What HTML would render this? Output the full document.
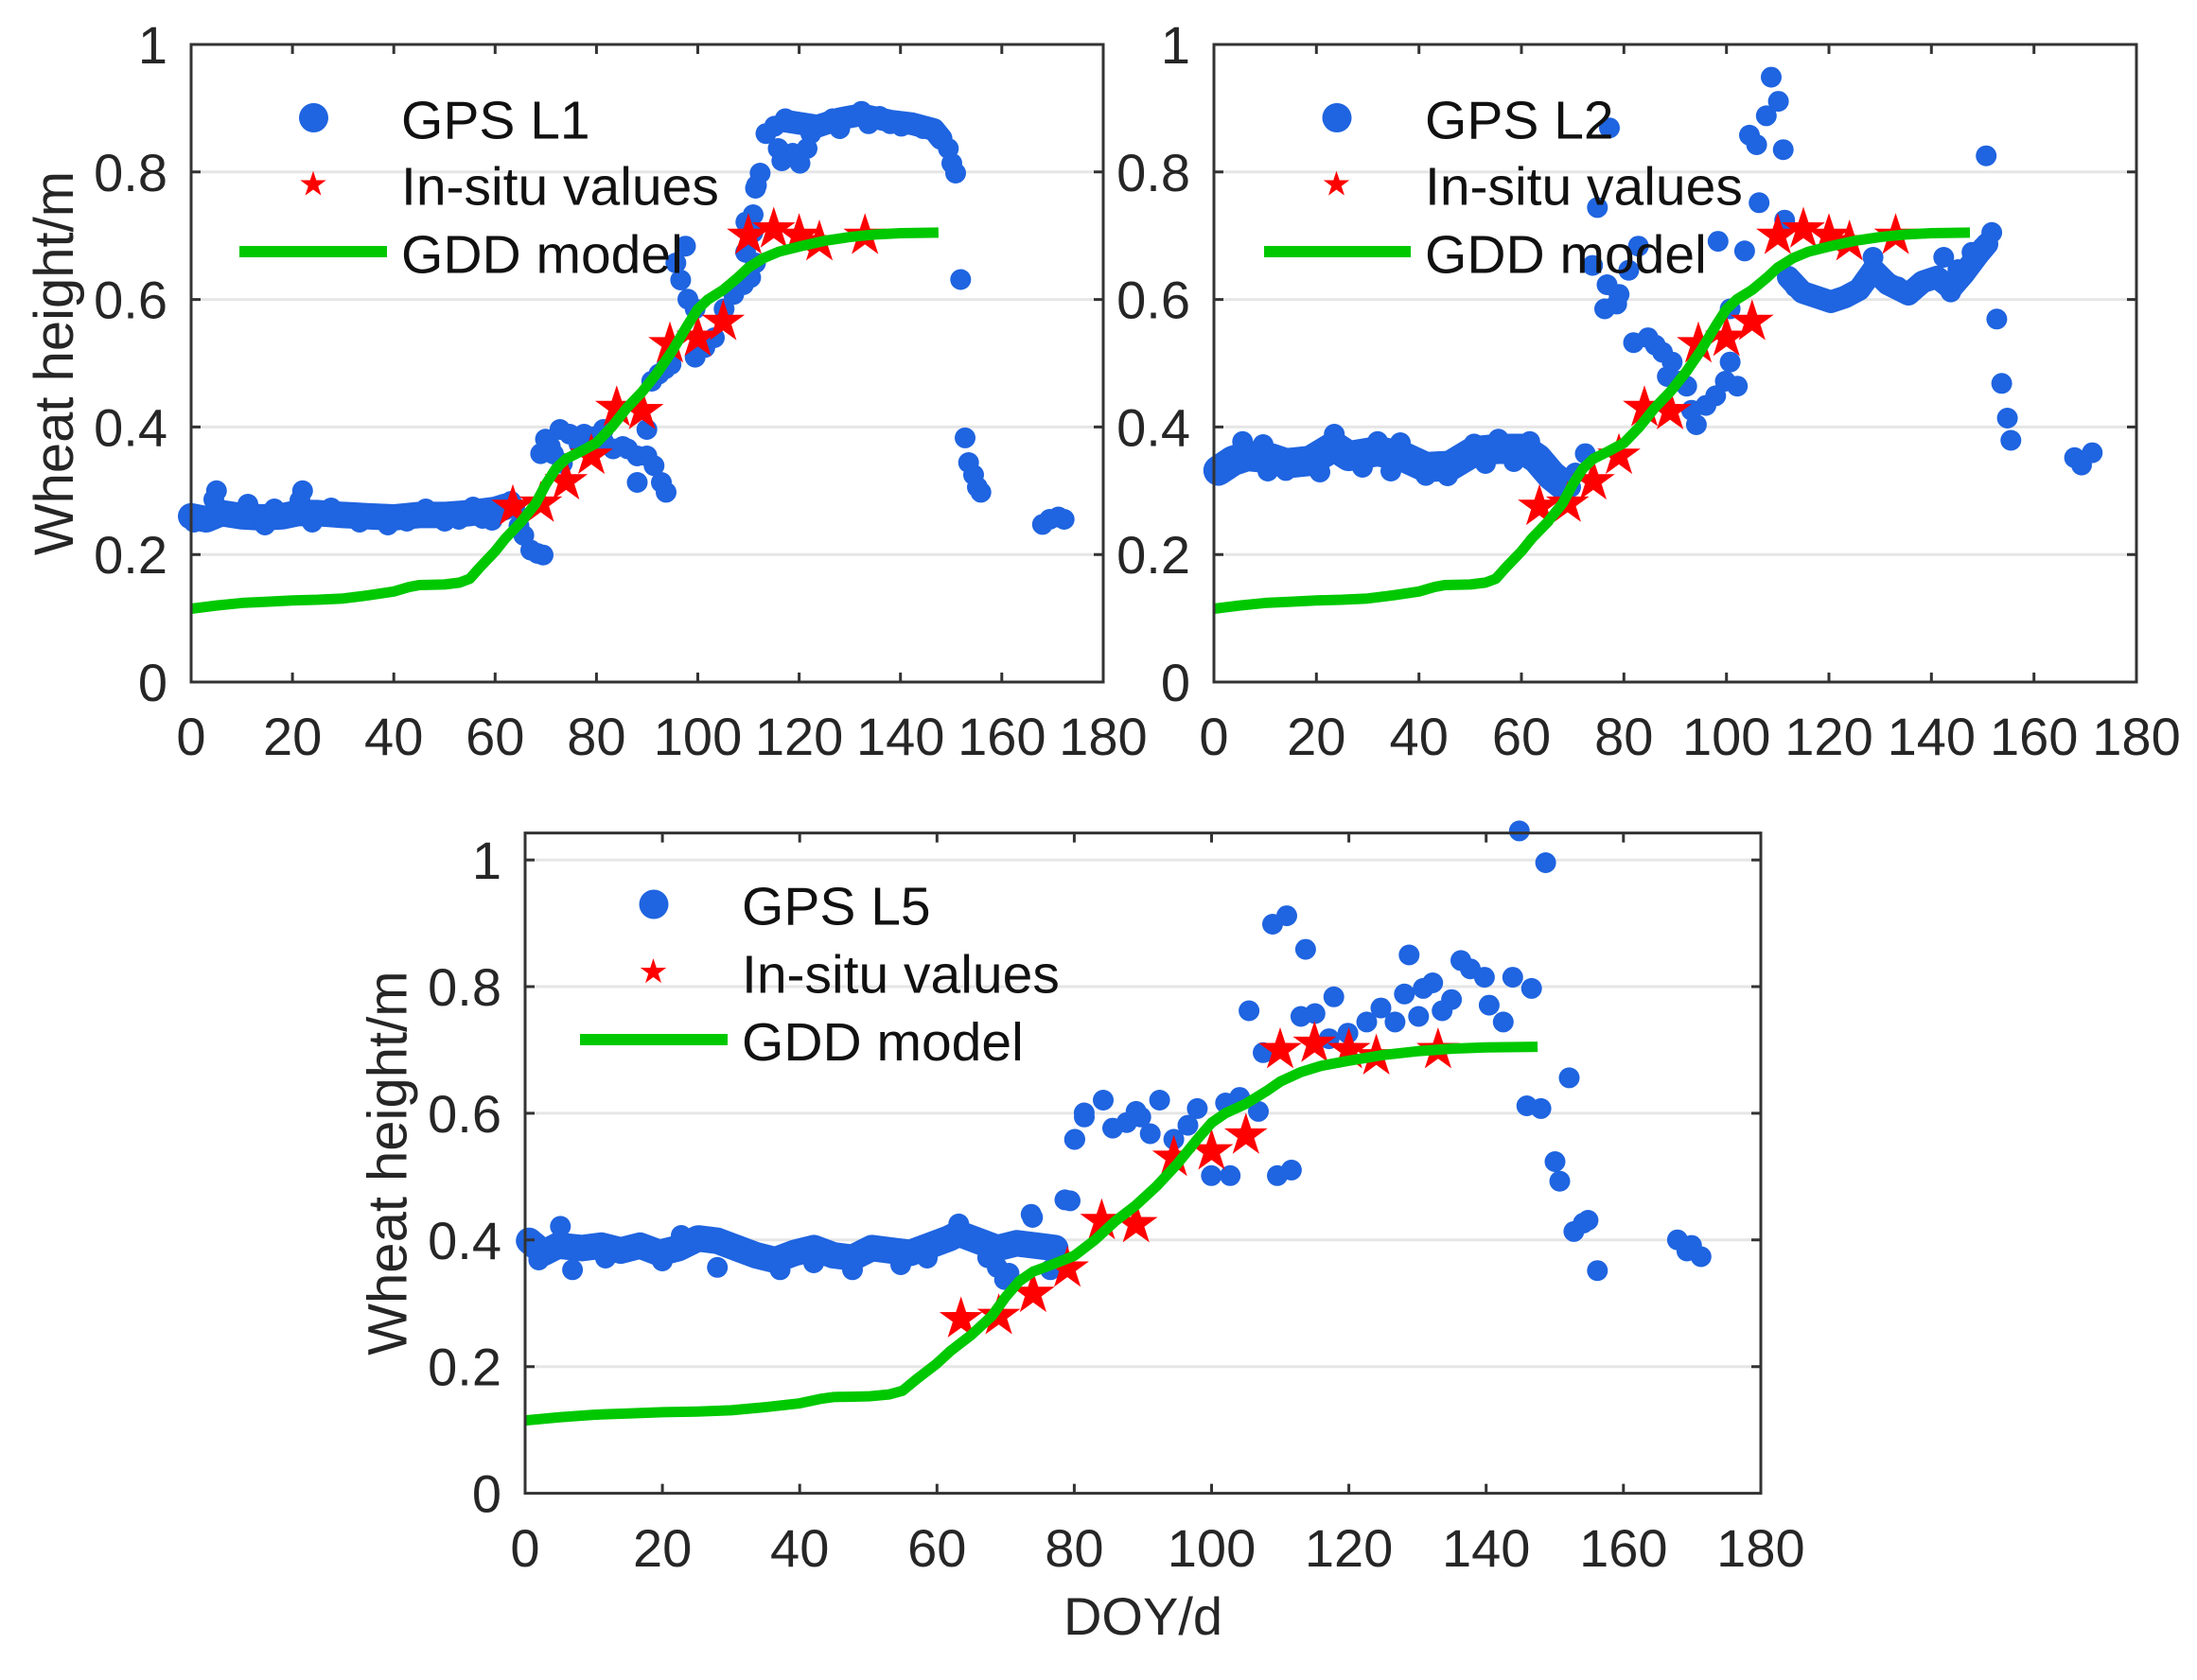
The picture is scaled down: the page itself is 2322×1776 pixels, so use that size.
<!DOCTYPE html>
<html>
<head>
<meta charset="utf-8">
<style>
html,body{margin:0;padding:0;background:#fff;}
svg{display:block;}
text{font-family:"Liberation Sans",Arial,sans-serif;fill:#262626;}
.tk{font-size:56px;}
.lg{font-size:57px;fill:#111;}
.yl{font-size:58px;}
.grid{stroke:#e6e6e6;stroke-width:3;fill:none;}
.box{stroke:#333;stroke-width:3;fill:none;}
.tick{stroke:#333;stroke-width:3;fill:none;}
.dots{stroke:#1f64e0;stroke-width:22;stroke-linecap:round;fill:none;}
.band{stroke:#1f64e0;stroke-linecap:round;stroke-linejoin:round;fill:none;}
.gdd{stroke:#00c800;stroke-width:11;fill:none;stroke-linejoin:round;}
</style>
</head>
<body>
<svg width="2322" height="1776" viewBox="0 0 2322 1776" xmlns="http://www.w3.org/2000/svg">
<defs>
<path id="st" fill="#ff0000" d="M0,-24 L5.41,-7.44 L22.83,-7.42 L8.75,2.84 L14.11,19.42 L0,9.2 L-14.11,19.42 L-8.75,2.84 L-22.83,-7.42 L-5.41,-7.44 Z"/>
</defs>
<rect width="2322" height="1776" fill="#fff"/>

<!-- ================= PLOT 1 ================= -->
<g>
<path class="grid" d="M202 586.2H1166 M202 451.4H1166 M202 316.6H1166 M202 181.8H1166"/>
<polyline class="band" stroke-width="28" points="202,545.8 218,549 234,542.4 255.6,545.8 277,547 298.4,545.8 314.5,542.4 336,542.4 362.7,544.4 389.4,545.8 416.2,547 443,544.4 469.8,544.4 496.5,542.4 523.3,539 534,535.7"/>
<polyline class="band" stroke-width="24" points="830,128 864.5,133.4 887.5,125.5 910.5,121.3 941,128 964,130.8 987,137 994.6,146.4"/>
<path class="dots" d="M228.8 518.8h0M319.8 518.8h0M317 529h0M226 528h0M262 533h0M280 555h0M350 537h0M380 552h0M410 555h0M450 538h0M470 551h0M500 536h0M520 550h0M205 552h0M290 538h0M330 552h0M430 551h0M485 549h0M510 548h0M540 530h0M544 536h0
M548.5 556h0M553.6 566h0M561 581.6h0M568 585h0M574 586.7h0
M571.4 479.6h0M576.5 464.3h0M591.8 454h0M602 459h0M612 469.4h0M617.3 459h0M627.6 461.7h0M637.8 466.8h0M648 474.5h0M658.2 472h0M663.3 474.5h0M673.5 482h0M683.7 482h0M691.3 492.3h0M683.7 454h0M673.5 510h0M704 520.4h0M699 510h0M594.4 489.8h0M581.6 472h0M637.8 454h0M585 480h0
M688.8 403h0M696.4 395.4h0M709.2 385.2h0M703 390h0M714.3 278h0M724.5 260.2h0M719.4 296h0M727 316.3h0M734.7 326.5h0M734.7 377.6h0M745 367.3h0M755 357h0M765.3 326.5h0M775.5 311.2h0M785.7 301h0M793.4 293.4h0M798.5 278h0M788.3 234.7h0M796 227h0M798.5 199h0M788 266.7h0M795.7 245.8h0
M799.5 196h0M803.4 183h0M809.5 141.2h0M818.7 133.4h0M830 125.5h0M822.5 157h0M826.3 170h0M837.8 162h0M845.5 172.6h0M853 157h0M857 141.2h0M868.4 130.8h0M880 125.5h0M887.5 136h0M899 123h0M910.5 117.7h0M918 130.8h0M929.6 123h0M941 130.8h0M952.6 133.4h0M964 130.8h0M975.5 136h0M987 138.6h0M994.6 146.4h0M1002.3 157h0M1006 172.6h0M1010 183h0
M1015.3 295.5h0M1020 462.9h0M1023.7 489h0M1029 502h0M1033 515h0M1036.7 520.4h0M1101.8 554.4h0M1109.4 549h0M1118.6 546.5h0M1124.7 549h0"/>
<use href="#st" x="542" y="535.7"/><use href="#st" x="571.5" y="532.3"/><use href="#st" x="598.3" y="508.7"/><use href="#st" x="625" y="481.7"/><use href="#st" x="651.8" y="431.2"/><use href="#st" x="678.6" y="434.5"/><use href="#st" x="708" y="363.8"/><use href="#st" x="737.5" y="357"/><use href="#st" x="764.3" y="340.2"/><use href="#st" x="791" y="249.2"/><use href="#st" x="817.8" y="242.5"/><use href="#st" x="844.6" y="249.2"/><use href="#st" x="866" y="256"/><use href="#st" x="914.2" y="249.2"/>
<g transform="translate(202,721) scale(5.355,-0.674)">
<polyline class="gdd" vector-effect="non-scaling-stroke" points="0,115 5,120 10,124 15,126 20,128 25,129 30,131 35,136 40,142 43,149 45,152 50,153 53,156 55,162 57,180 60,205 62,225 65,250 68,280 70,310 72,335 74,350 77,362 80,375 83,400 86,430 89,455 92,485 95,520 98,560 100,585 102,600 105,615 108,635 110,650 113,665 116,675 120,683 125,692 130,698 135,702 140,704 147.5,705"/>
</g>
<rect class="box" x="202" y="47" width="964" height="674"/>
<path class="tick" d="M309.1 721v-10M416.2 721v-10M523.3 721v-10M630.4 721v-10M737.5 721v-10M844.6 721v-10M951.7 721v-10M1058.8 721v-10
M309.1 47v10M416.2 47v10M523.3 47v10M630.4 47v10M737.5 47v10M844.6 47v10M951.7 47v10M1058.8 47v10
M202 586.2h10M202 451.4h10M202 316.6h10M202 181.8h10M1166 586.2h-10M1166 451.4h-10M1166 316.6h-10M1166 181.8h-10"/>
<g class="tk" text-anchor="end">
<text class="tk" x="177" y="741">0</text><text class="tk" x="177" y="606.2">0.2</text><text class="tk" x="177" y="471.4">0.4</text><text class="tk" x="177" y="336.6">0.6</text><text class="tk" x="177" y="201.8">0.8</text><text class="tk" x="177" y="67">1</text>
</g>
<g text-anchor="middle">
<text class="tk" x="202" y="798">0</text><text class="tk" x="309.1" y="798">20</text><text class="tk" x="416.2" y="798">40</text><text class="tk" x="523.3" y="798">60</text><text class="tk" x="630.4" y="798">80</text><text class="tk" x="737.5" y="798">100</text><text class="tk" x="844.6" y="798">120</text><text class="tk" x="951.7" y="798">140</text><text class="tk" x="1058.8" y="798">160</text><text class="tk" x="1165.9" y="798">180</text>
</g>
<text class="yl" text-anchor="middle" transform="translate(77,384) rotate(-90)">Wheat height/m</text>
<!-- legend -->
<circle cx="331.5" cy="124.5" r="15.5" fill="#1f64e0"/>
<use href="#st" transform="translate(331,195) scale(0.6)"/>
<line x1="253" y1="266" x2="409" y2="266" stroke="#00c800" stroke-width="12"/>
<text class="lg" x="424" y="146.7">GPS L1</text>
<text class="lg" x="424" y="216.7">In-situ values</text>
<text class="lg" x="424" y="288.3">GDD model</text>
</g>

<!-- ================= PLOT 2 ================= -->
<g>
<path class="grid" d="M1283 586.2H2258 M1283 451.4H2258 M1283 316.6H2258 M1283 181.8H2258"/>
<polyline class="band" stroke-width="32" points="1287.8,497.4 1303,487.2 1318.4,482.1 1343.9,484.7 1359.2,489.8 1384.7,487.2 1410.2,471.9 1425.5,482.1 1456.1,477 1481.6,482.1 1507.1,493.9 1532.7,492.3 1558.2,477 1583.7,474.5 1609.2,474.5 1624.5,484.7 1639.8,502.6 1652.6,512.8"/>
<polyline class="band" stroke-width="24" points="1890,293 1905,309 1935,319 1950,314 1965,306 1980,285 1995,300 2017,311 2032,298 2047,293 2062,305 2075,290 2090,270 2100,258"/>
<path class="dots" d="M1313.3 466.8h0M1410.2 459h0M1456 466.8h0M1558 469.4h0M1583.7 464.3h0M1616.8 466.8h0M1507 502.6h0M1359 497.4h0M1287.8 502.6h0M1675.5 479.6h0M1665 500h0M1340 498h0M1395 499h0M1440 494h0M1470 498h0M1530 503h0M1570 490h0M1600 488h0M1335 470h0M1480 468h0M1290 490h0M1660 515h0
M1701 135.2h0M1688.3 219.4h0M1683.2 280.6h0M1698.5 301h0M1711.2 311.2h0M1696 326.5h0M1708.7 321.4h0M1721.4 285.7h0M1731.6 260.2h0M1726.5 362.2h0M1741.8 357.1h0M1749.5 364.8h0M1757.1 372.4h0M1767.3 382.7h0M1762.2 398h0M1775 403h0M1782.7 408.2h0M1792.9 449h0M1787.8 433.7h0M1803 428.6h0M1813.3 418.4h0M1823.5 403h0M1828.6 382.7h0M1836.2 408.2h0M1828.6 326.5h0M1815.8 255.1h0M1843.9 265.3h0M1849 142.9h0M1856.6 153h0M1859.2 214.3h0M1872 81.6h0M1879.6 107.1h0M1866.8 122.4h0M1884.7 158.2h0
M1886.2 232.7h0M1890 292.9h0M1897.4 303.3h0M1904.9 308.6h0M1919.8 313.8h0M1934.7 319h0M1949.7 313.8h0M1964.6 306h0M1979.6 272h0M1987 292.9h0M1994.5 298h0M2005.8 303.3h0M2017 311.2h0M2032 298h0M2046.9 292.9h0M2054.3 272h0M2061.8 308.6h0M2069.3 285h0M2084.2 266.7h0M2095.4 261.5h0M2099.2 164.7h0M2105.1 245.8h0M2110.4 337.3h0M2115.6 405.3h0M2121.6 442h0M2125.3 465.5h0M2192.6 483.8h0M2200 491.6h0M2211.3 478.6h0"/>
<use href="#st" x="1627" y="535.7"/><use href="#st" x="1656.8" y="532.3"/><use href="#st" x="1683.9" y="508.7"/><use href="#st" x="1711" y="481.7"/><use href="#st" x="1738" y="431.2"/><use href="#st" x="1765.1" y="434.5"/><use href="#st" x="1795" y="363.8"/><use href="#st" x="1824.7" y="357"/><use href="#st" x="1851.8" y="340.2"/><use href="#st" x="1878.9" y="249.2"/><use href="#st" x="1906" y="242.5"/><use href="#st" x="1933" y="249.2"/><use href="#st" x="1954.7" y="256"/><use href="#st" x="2003.5" y="249.2"/>
<g transform="translate(1283,721) scale(5.417,-0.674)">
<polyline class="gdd" vector-effect="non-scaling-stroke" points="0,115 5,120 10,124 15,126 20,128 25,129 30,131 35,136 40,142 43,149 45,152 50,153 53,156 55,162 57,180 60,205 62,225 65,250 68,280 70,310 72,335 74,350 77,362 80,375 83,400 86,430 89,455 92,485 95,520 98,560 100,585 102,600 105,615 108,635 110,650 113,665 116,675 120,683 125,692 130,698 135,702 140,704 147.5,705"/>
</g>
<rect class="box" x="1283" y="47" width="975" height="674"/>
<path class="tick" d="M1391.3 721v-10M1499.7 721v-10M1608 721v-10M1716.3 721v-10M1824.7 721v-10M1933 721v-10M2041.3 721v-10M2149.7 721v-10
M1391.3 47v10M1499.7 47v10M1608 47v10M1716.3 47v10M1824.7 47v10M1933 47v10M2041.3 47v10M2149.7 47v10
M1283 586.2h10M1283 451.4h10M1283 316.6h10M1283 181.8h10M2258 586.2h-10M2258 451.4h-10M2258 316.6h-10M2258 181.8h-10"/>
<g text-anchor="end">
<text class="tk" x="1258" y="741">0</text><text class="tk" x="1258" y="606.2">0.2</text><text class="tk" x="1258" y="471.4">0.4</text><text class="tk" x="1258" y="336.6">0.6</text><text class="tk" x="1258" y="201.8">0.8</text><text class="tk" x="1258" y="67">1</text>
</g>
<g text-anchor="middle">
<text class="tk" x="1283" y="798">0</text><text class="tk" x="1391.3" y="798">20</text><text class="tk" x="1499.7" y="798">40</text><text class="tk" x="1608" y="798">60</text><text class="tk" x="1716.3" y="798">80</text><text class="tk" x="1824.7" y="798">100</text><text class="tk" x="1933" y="798">120</text><text class="tk" x="2041.3" y="798">140</text><text class="tk" x="2149.7" y="798">160</text><text class="tk" x="2258" y="798">180</text>
</g>
<circle cx="1413" cy="124.5" r="15.5" fill="#1f64e0"/>
<use href="#st" transform="translate(1412.5,195) scale(0.6)"/>
<line x1="1336" y1="266" x2="1491" y2="266" stroke="#00c800" stroke-width="12"/>
<text class="lg" x="1506" y="146.7">GPS L2</text>
<text class="lg" x="1506" y="216.7">In-situ values</text>
<text class="lg" x="1506" y="288.3">GDD model</text>
</g>

<!-- ================= PLOT 3 ================= -->
<g>
<path class="grid" d="M555 1444.7H1861 M555 1310.8H1861 M555 1176.9H1861 M555 1043H1861 M555 909.1H1861"/>
<polyline class="band" stroke-width="28" points="559.2,1311.7 574.5,1324.5 589.8,1316.8 615.3,1319.4 635.7,1316.8 656.1,1322 676.5,1316.8 696.9,1324.5 717.3,1319.4 737.8,1309.2 758.2,1311.7 778.6,1319.4 799,1327 819.4,1332.1 839.8,1324.5 860.2,1319.4 880.6,1327 901,1329.6 921.4,1319.4 941.8,1322 962.2,1324.5 982.7,1316.8 1003,1309.2 1013.3,1304.1 1033.7,1311.7 1054,1319.4 1074.5,1314.3 1094.9,1316.8 1115.3,1319.4"/>
<path class="dots" d="M592.3 1296.4h0M569.4 1332h0M605.1 1342.3h0M758.2 1339.8h0M824.5 1342.3h0M901 1342.3h0M952 1337h0M1013.3 1293.9h0M1054 1339.8h0M1061.7 1352.6h0M1089.8 1283.7h0M1125.5 1268.4h0M1135.7 1204.6h0M1145.9 1176.5h0M1110.2 1342.3h0M1043.9 1329.6h0M1066.4 1346h0M1091.3 1287h0M1131 1269.4h0M640 1330h0M700 1333h0M860 1335h0M980 1330h0M720 1306h0
M1136 1204.4h0M1146 1180.8h0M1166 1163h0M1176 1192.6h0M1190.8 1186.7h0M1205.7 1180.8h0M1215.7 1198.5h0M1200.7 1174.9h0M1225.6 1163h0M1240.6 1204.4h0M1255.5 1189.6h0M1265.4 1171.9h0M1280.3 1242.8h0M1300.2 1242.8h0M1295.3 1166h0M1310.2 1160.1h0M1320.1 1068.5h0M1330 1174.9h0M1335 1112.8h0M1345 977h0M1360 968.1h0M1350 1242.8h0M1364.9 1236.9h0M1379.9 1003.6h0M1374.9 1074.5h0M1389.8 1071.5h0M1409.7 1053.8h0M1404.7 1098.1h0M1424.6 1092.2h0M1444.5 1080.4h0M1459.5 1065.6h0M1474.4 1080.4h0M1489.3 1009.5h0M1484.3 1050.8h0M1504.2 1044.9h0M1514.2 1039h0M1499.3 1074.5h0M1524.2 1068.5h0M1534.1 1056.7h0M1544 1015.4h0M1554 1024.2h0M1568.9 1033.1h0M1573.9 1062.6h0M1588.8 1080.4h0M1598.8 1033.1h0M1605.8 878.4h0M1633.6 912h0M1618.7 1044.9h0M1613.7 1169h0M1628.6 1171.9h0M1643.5 1228h0M1648.5 1248.7h0M1658.5 1139.4h0M1663.4 1301.9h0M1673.4 1293h0M1678.4 1290h0M1688.3 1343.2h0M1772.9 1310.7h0M1782.9 1322.5h0M1797.8 1328.5h0M1787.8 1316.6h0"/>
<use href="#st" x="1015.7" y="1394.5"/><use href="#st" x="1055.6" y="1391.1"/><use href="#st" x="1091.9" y="1367.7"/><use href="#st" x="1128.1" y="1340.9"/><use href="#st" x="1164.4" y="1290.7"/><use href="#st" x="1200.7" y="1294"/><use href="#st" x="1240.6" y="1223.8"/><use href="#st" x="1280.5" y="1217.1"/><use href="#st" x="1316.8" y="1200.3"/><use href="#st" x="1353" y="1110"/><use href="#st" x="1389.3" y="1103.3"/><use href="#st" x="1425.6" y="1110"/><use href="#st" x="1454.6" y="1116.6"/><use href="#st" x="1519.9" y="1110"/>
<g transform="translate(555,1578.6) scale(7.255,-0.6695)">
<polyline class="gdd" vector-effect="non-scaling-stroke" points="0,115 5,120 10,124 15,126 20,128 25,129 30,131 35,136 40,142 43,149 45,152 50,153 53,156 55,162 57,180 60,205 62,225 65,250 68,280 70,310 72,335 74,350 77,362 80,375 83,400 86,430 89,455 92,485 95,520 98,560 100,585 102,600 105,615 108,635 110,650 113,665 116,675 120,683 125,692 130,698 135,702 140,704 147.5,705"/>
</g>
<rect class="box" x="555" y="880.6" width="1306" height="698"/>
<path class="tick" d="M700.1 1578.6v-10M845.2 1578.6v-10M990.3 1578.6v-10M1135.4 1578.6v-10M1280.5 1578.6v-10M1425.6 1578.6v-10M1570.7 1578.6v-10M1715.8 1578.6v-10
M700.1 880.6v10M845.2 880.6v10M990.3 880.6v10M1135.4 880.6v10M1280.5 880.6v10M1425.6 880.6v10M1570.7 880.6v10M1715.8 880.6v10
M555 1444.7h10M555 1310.8h10M555 1176.9h10M555 1043h10M555 909.1h10M1861 1444.7h-10M1861 1310.8h-10M1861 1176.9h-10M1861 1043h-10M1861 909.1h-10"/>
<g text-anchor="end">
<text class="tk" x="530" y="1598.6">0</text><text class="tk" x="530" y="1464.7">0.2</text><text class="tk" x="530" y="1330.8">0.4</text><text class="tk" x="530" y="1196.9">0.6</text><text class="tk" x="530" y="1063">0.8</text><text class="tk" x="530" y="929.1">1</text>
</g>
<g text-anchor="middle">
<text class="tk" x="555" y="1656">0</text><text class="tk" x="700.1" y="1656">20</text><text class="tk" x="845.2" y="1656">40</text><text class="tk" x="990.3" y="1656">60</text><text class="tk" x="1135.4" y="1656">80</text><text class="tk" x="1280.5" y="1656">100</text><text class="tk" x="1425.6" y="1656">120</text><text class="tk" x="1570.7" y="1656">140</text><text class="tk" x="1715.8" y="1656">160</text><text class="tk" x="1860.9" y="1656">180</text>
</g>
<text class="tk" text-anchor="middle" x="1208" y="1728">DOY/d</text>
<text class="yl" text-anchor="middle" transform="translate(429.5,1229.6) rotate(-90)">Wheat height/m</text>
<circle cx="691" cy="956" r="15.5" fill="#1f64e0"/>
<use href="#st" transform="translate(690.5,1027.5) scale(0.6)"/>
<line x1="613" y1="1099" x2="769" y2="1099" stroke="#00c800" stroke-width="12"/>
<text class="lg" x="784" y="977.5">GPS L5</text>
<text class="lg" x="784" y="1049.5">In-situ values</text>
<text class="lg" x="784" y="1121">GDD model</text>
</g>
</svg>
</body>
</html>
